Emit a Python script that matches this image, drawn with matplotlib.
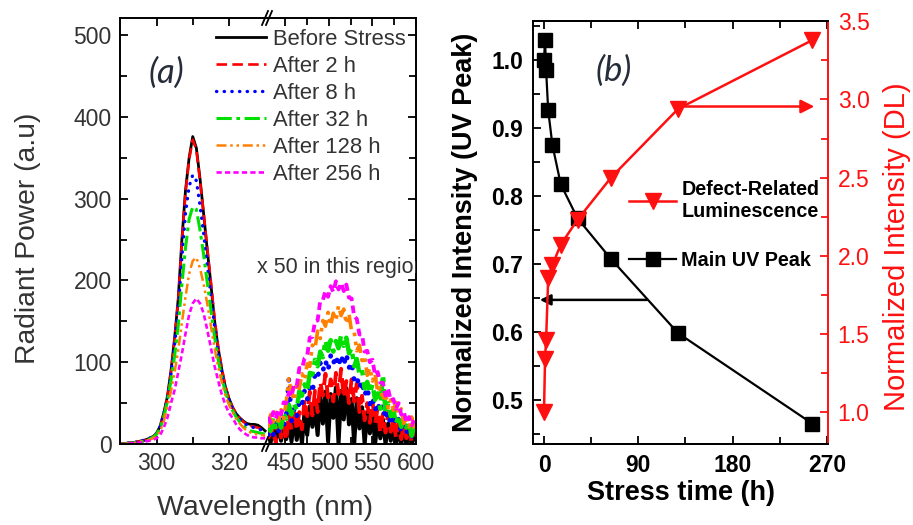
import numpy as np
import matplotlib
matplotlib.use("Agg")
import matplotlib.pyplot as plt
from matplotlib.ticker import MultipleLocator, FixedLocator, FormatStrFormatter
from matplotlib.lines import Line2D
from matplotlib.transforms import Bbox, TransformedBbox

plt.rcParams['font.family'] = ['Liberation Sans', 'DejaVu Sans']

# ---------------- Panel (a): emission spectra ----------------
series_labels = ["Before Stress", "After 2 h", "After 8 h",
                 "After 32 h", "After 128 h", "After 256 h"]

# main UV band, 290-330 nm in 1 nm steps
uv_wl = np.arange(290, 331)
uv_before = [0, 0.5, 1, 1.5, 2, 3, 4, 5, 7, 9,
             13, 22, 38, 58, 90, 130, 178, 250, 310, 350,
             376, 362, 325, 282, 238, 196, 152, 118, 92, 70,
             56, 45, 37, 32, 28, 25, 24, 24, 23, 20,
             16]
uv_2h = [0, 0.5, 1, 1.5, 2, 3, 4, 5, 7, 9,
         12, 21, 37, 57, 88, 128, 176, 247, 307, 348,
         372, 360, 322, 283, 240, 199, 155, 120, 93, 71,
         56, 45, 37, 31, 27, 24, 22, 21, 20, 18,
         15]
uv_8h = [0, 0.5, 1, 1.5, 2, 3, 4, 5, 7, 9,
         13, 21, 36, 56, 86, 122, 165, 228, 282, 315,
         329, 322, 292, 258, 220, 182, 145, 112, 88, 68,
         54, 43, 35, 30, 26, 23, 21, 20, 19, 17,
         15]
uv_32h = [0, 0, 0.5, 1, 1.5, 2, 3, 4, 6, 8,
          12, 19, 33, 52, 78, 108, 145, 195, 240, 275,
          290, 287, 262, 232, 198, 165, 132, 104, 82, 64,
          51, 41, 33, 27, 22, 18, 16, 15, 14, 13,
          12]
uv_128h = [0, 0, 0.5, 1, 1.5, 2, 3, 4, 5, 7,
           10, 16, 28, 45, 65, 88, 115, 148, 180, 208,
           224, 228, 215, 196, 172, 145, 118, 95, 76, 60,
           48, 39, 31, 25, 20, 16, 14, 12, 12, 11,
           10]
uv_256h = [0, 0, 0.5, 1, 1, 1.5, 2, 3, 4, 5,
           7, 11, 20, 32, 50, 66, 88, 110, 135, 158,
           172, 178, 172, 160, 140, 118, 96, 78, 61, 48,
           38, 32, 24, 18, 14, 11, 9, 8, 8, 7,
           7]

# defect band (x 50), 430-598 nm in 3 nm steps
dl_wl = np.arange(430, 600, 3)
dl_before = [13, 2, 18, 4, 23, 4, 19, 6, 26, 3,
             33, 5, 28, 1, 39, 11, 46, 21, 45, 11,
             59, 25, 64, 3, 61, 32, 69, 0, 65, 30,
             68, 24, 55, 0, 56, 19, 45, 0, 39, 13,
             40, 0, 30, 7, 30, 0, 25, 4, 21, 0,
             17, 0, 16, 0, 11, 0, 8]
dl_2h = [25, 2, 23, 0, 33, 8, 24, 4, 37, 17,
         46, 16, 39, 18, 55, 34, 64, 35, 65, 39,
         76, 59, 86, 57, 79, 52, 87, 61, 92, 56,
         77, 50, 79, 52, 74, 39, 59, 29, 50, 26,
         52, 25, 44, 13, 37, 14, 39, 15, 32, 7,
         27, 6, 25, 7, 21, 2, 17]
dl_8h = [11, 24, 11, 25, 14, 32, 23, 34, 80, 28,
         43, 33, 53, 48, 65, 54, 70, 64, 85, 80,
         99, 89, 102, 90, 108, 98, 108, 95, 109, 96,
         110, 93, 100, 78, 83, 68, 77, 59, 69, 49,
         57, 41, 51, 39, 48, 30, 39, 23, 36, 23,
         31, 14, 23, 13, 25, 9, 18]
dl_32h = [27, 16, 32, 18, 31, 20, 37, 31, 48, 36,
          49, 42, 65, 59, 73, 64, 87, 85, 103, 95,
          113, 106, 127, 114, 127, 113, 126, 117, 133, 120,
          130, 111, 117, 95, 104, 86, 91, 68, 76, 62,
          73, 54, 62, 43, 85, 38, 50, 34, 42, 25,
          35, 21, 34, 20, 27, 10, 22]
dl_128h = [20, 36, 27, 43, 28, 42, 31, 52, 80, 62,
           53, 76, 68, 86, 78, 98, 95, 121, 117, 138,
           129, 151, 144, 161, 145, 160, 151, 169, 157, 165,
           147, 159, 138, 137, 114, 121, 102, 107, 84, 93,
           77, 86, 63, 69, 53, 63, 44, 54, 41, 51,
           36, 43, 25, 35, 21, 33, 19]
dl_256h = [33, 26, 39, 31, 42, 36, 51, 50, 63, 58,
           73, 71, 93, 92, 105, 108, 130, 131, 150, 151,
           175, 176, 187, 180, 193, 186, 199, 189, 197, 187,
           195, 179, 178, 156, 153, 134, 134, 113, 114, 100,
           103, 84, 88, 75, 75, 59, 67, 53, 55, 43,
           50, 36, 40, 26, 33, 23, 29]

uv_series = [uv_before, uv_2h, uv_8h, uv_32h, uv_128h, uv_256h]
dl_series = [dl_before, dl_2h, dl_8h, dl_32h, dl_128h, dl_256h]

# ---------------- Panel (b): intensity vs stress time ----------------
stress_time = [0, 1, 2, 4, 8, 16, 32, 64, 128, 256]
uv_peak_norm = [1.0, 1.03, 0.985, 0.926, 0.875, 0.817, 0.767, 0.707, 0.598, 0.465]
dl_norm = [1.0, 1.34, 1.46, 1.855, 1.94, 2.07, 2.23, 2.50, 2.94, 3.38]

# ---------------- styling ----------------
styles = [
    dict(color='black', ls='-', lw=2.0),
    dict(color='#ff0000', ls=(0, (4, 2)), lw=1.9),
    dict(color='#0000ff', ls=(0, (0.1, 2.2)), lw=2.4, dash_capstyle='round'),
    dict(color='#00e000', ls=(0, (5, 1.5, 1.2, 1.5)), lw=2.2),
    dict(color='#ff8000', ls=(0, (4, 1.5, 1, 1.5, 1, 1.5)), lw=1.8),
    dict(color='#ff00ff', ls=(0, (2, 1.2)), lw=1.9),
]
TXT = '#333333'

W, H = 913, 525
fig = plt.figure(figsize=(W / 100, H / 100), dpi=100)


def rect(x0, y0, x1, y1):
    return [x0 / W, 1 - y1 / H, (x1 - x0) / W, (y1 - y0) / H]


def fx(x):
    return x / W


def fy(y):
    return 1 - y / H


axL = fig.add_axes(rect(120, 18, 268, 444))
axR = fig.add_axes(rect(268, 18, 416, 444))

lines = []
for lab, yv, st in zip(series_labels, uv_series, styles):
    ln, = axL.plot(uv_wl, yv, label=lab, **st)
    lines.append(ln)
for yv, st in zip(dl_series, styles):
    st_dl = dict(st)
    st_dl['lw'] = st['lw'] * 1.45
    axR.plot(dl_wl, yv, **st_dl)

for ax in (axL, axR):
    ax.set_ylim(0, 521)
    ax.yaxis.set_major_locator(MultipleLocator(100))
    ax.yaxis.set_minor_locator(MultipleLocator(50))
    for s in ax.spines.values():
        s.set_linewidth(1.4)
    ax.tick_params(which='both', direction='in', top=True, width=1.3,
                   labelsize=16.5, labelcolor=TXT, pad=6)
    ax.tick_params(which='major', length=6)
    ax.tick_params(which='minor', length=5)

axL.set_xlim(289.9, 330.8)
axL.xaxis.set_major_locator(FixedLocator([300, 320]))
axL.xaxis.set_minor_locator(FixedLocator([310]))
axL.spines['right'].set_visible(False)
axL.tick_params(axis='y', which='both', right=False)

axR.set_xlim(430, 600)
axR.xaxis.set_major_locator(MultipleLocator(50))
axR.xaxis.set_minor_locator(MultipleLocator(25))
axR.spines['left'].set_visible(False)
axR.tick_params(axis='y', which='both', left=False, right=True, labelleft=False)

# axis break marks
for yb in (18, 444):
    for dx in (0, 4):
        fig.add_artist(Line2D([fx(262 + dx), fx(268 + dx)], [fy(yb + 7), fy(yb - 7)],
                              transform=fig.transFigure, color='black', lw=1.3))

fig.text(fx(28), fy(238), 'Radiant Power (a.u)', rotation=90, ha='center', va='center',
         fontsize=20.3, color=TXT)
fig.text(fx(265), fy(508), 'Wavelength (nm)', ha='center', va='center',
         fontsize=20.5, color=TXT)
fig.text(fx(166), fy(73), '(a)', ha='center', va='center', fontsize=25,
         family=['Lato', 'DejaVu Sans'], style='italic', color='#262d3a')

note = fig.text(fx(257), fy(268), 'x 50 in this region', ha='left', va='center',
                fontsize=15.5, color=TXT)
note.set_clip_box(TransformedBbox(Bbox([[120 / W, 0], [416 / W, 1]]), fig.transFigure))
note.set_clip_on(True)

legA = fig.legend(handles=lines, labels=series_labels, loc='upper left',
                  bbox_to_anchor=(fx(216), fy(29)), frameon=False, fontsize=15.8,
                  handlelength=2.3, handletextpad=0.3, labelspacing=0.27,
                  borderpad=0, borderaxespad=0)
for t in legA.get_texts():
    t.set_color(TXT)

# ---------------- Panel (b) ----------------
axb = fig.add_axes(rect(533, 20.5, 828, 444))
ax2 = axb.twinx()

uv_line, = axb.plot(stress_time, uv_peak_norm, color='black', lw=1.6,
                    marker='s', ms=9.5, label='Main UV Peak')
dl_line, = ax2.plot(stress_time, dl_norm, color='#ff1010', lw=1.8,
                    marker='v', ms=11, label='Defect-Related\nLuminescence')

axb.set_xlim(-10.5, 271)
axb.set_ylim(0.435, 1.058)
ax2.set_ylim(0.793, 3.506)

axb.xaxis.set_major_locator(MultipleLocator(90))
axb.xaxis.set_minor_locator(MultipleLocator(45))
axb.yaxis.set_major_locator(MultipleLocator(0.1))
axb.yaxis.set_minor_locator(MultipleLocator(0.05))
axb.yaxis.set_major_formatter(FormatStrFormatter('%.1f'))
ax2.yaxis.set_major_locator(MultipleLocator(0.5))
ax2.yaxis.set_minor_locator(MultipleLocator(0.25))
ax2.yaxis.set_major_formatter(FormatStrFormatter('%.1f'))

for s in axb.spines.values():
    s.set_linewidth(1.4)
for s in ax2.spines.values():
    s.set_linewidth(1.4)
axb.spines['right'].set_visible(False)
ax2.spines['left'].set_visible(False)
ax2.spines['right'].set_color('#ff1010')

axb.tick_params(which='both', direction='in', top=True, right=False, width=1.3,
                labelsize=16.5, pad=7)
axb.tick_params(which='major', length=6)
axb.tick_params(which='minor', length=5)
for lbl in axb.get_xticklabels() + axb.get_yticklabels():
    lbl.set_fontweight('bold')
ax2.tick_params(which='both', direction='in', width=1.3, colors='#ff1010',
                labelsize=16.5, pad=7)
ax2.tick_params(which='major', length=6)
ax2.tick_params(which='minor', length=5)

# guide arrows pointing to each scale
UV_ARROW_Y = 0.647
DL_ARROW_Y = 2.955
axb.annotate('', xy=(-4, UV_ARROW_Y), xytext=(98, UV_ARROW_Y),
             arrowprops=dict(arrowstyle='-|>', color='black', lw=1.8,
                             mutation_scale=16, shrinkA=0, shrinkB=0))
ax2.annotate('', xy=(258, DL_ARROW_Y), xytext=(128, DL_ARROW_Y),
             arrowprops=dict(arrowstyle='-|>', color='#ff1010', lw=1.8,
                             mutation_scale=20, shrinkA=0, shrinkB=0))

fig.text(fx(465), fy(232), 'Normalized Intensity (UV Peak)', rotation=90,
         ha='center', va='center', fontsize=19.5, fontweight='bold')
fig.text(fx(681), fy(493), 'Stress time (h)', ha='center', va='center',
         fontsize=19.5, fontweight='bold')
fig.text(fx(897), fy(247), 'Normalized Intensity (DL)', rotation=90,
         ha='center', va='center', fontsize=21, color='#ff1010')
fig.text(fx(614), fy(71), '(b)', ha='center', va='center', fontsize=25,
         family=['Lato', 'DejaVu Sans'], style='italic', color='#262d3a')

legB = ax2.legend(handles=[dl_line, uv_line],
                  labels=['Defect-Related\nLuminescence', 'Main UV Peak'],
                  loc='upper left', bbox_to_anchor=(fx(629), fy(180)),
                  bbox_transform=fig.transFigure, frameon=False, fontsize=14.2,
                  handlelength=2.4, handletextpad=0.25, labelspacing=1.5,
                  borderpad=0, borderaxespad=0, numpoints=1)
for t in legB.get_texts():
    t.set_fontweight('bold')

fig.savefig('out.png', dpi=100)
